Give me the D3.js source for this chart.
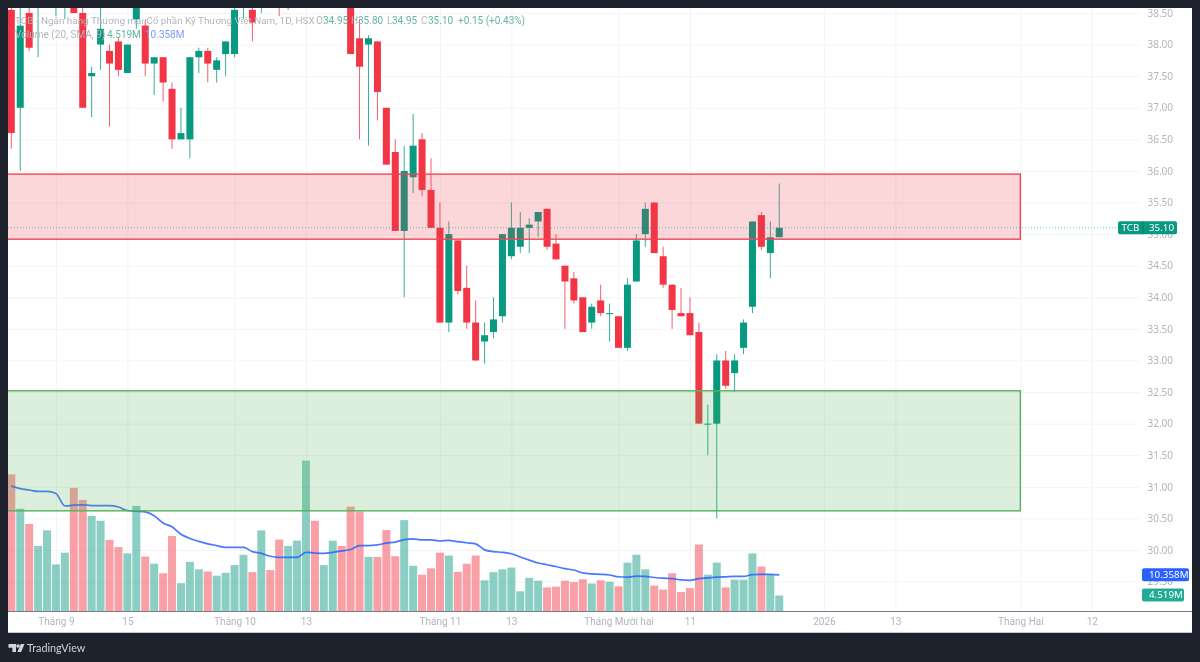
<!DOCTYPE html>
<html><head><meta charset="utf-8">
<style>html,body{margin:0;padding:0;background:#1e222d;overflow:hidden}svg{display:block;filter:blur(.35px)}</style>
<script src="https://cdn.jsdelivr.net/npm/d3@7"></script></head><body>
<svg id="c" width="1200" height="662"></svg>
<script>
// OHLC, one entry per session (values above 38.6 are off the visible pane and estimated)
const opens=[38.55,37.0,38.5,38.65,38.9,38.7,38.8,38.9,38.5,37.5,38.0,37.9,38.05,37.55,38.4,38.3,37.7,37.8,37.3,36.5,36.5,37.8,37.9,37.6,37.85,37.85,38.7,38.55,38.7,39.1,39.0,38.75,38.9,39.0,39.3,39.1,39.2,39.4,39.0,38.1,38.0,38.05,37.0,36.3,35.05,35.9,36.5,35.7,35.1,33.6,34.9,34.15,33.6,33.3,33.45,33.7,34.65,34.8,35.1,35.2,35.4,34.85,34.5,34.3,34.0,33.6,33.95,33.75,33.7,33.2,34.25,35.0,35.5,34.65,34.2,33.75,33.75,33.45,32.0,32.0,33.0,32.8,33.2,33.85,35.3,34.7,34.95];
const highs=[38.8,38.6,38.7,39.0,39.3,39.0,39.1,39.0,38.65,37.65,38.65,38.0,38.1,38.0,38.8,38.4,37.8,37.8,37.4,37.0,37.8,37.95,37.95,37.8,38.05,38.75,39.0,38.7,39.0,39.3,39.1,39.0,39.2,39.3,39.4,39.3,39.4,39.5,39.1,38.4,38.15,38.05,37.0,36.5,36.4,36.9,36.6,36.2,35.5,35.2,34.9,34.5,33.95,33.6,34.0,35.0,35.5,35.35,35.25,35.35,35.4,35.0,34.5,34.4,34.0,33.9,34.2,33.9,33.7,34.3,35.0,35.5,35.5,34.8,34.2,34.15,34.0,33.6,32.3,33.1,33.15,33.1,33.65,35.2,35.35,35.2,35.8];
const lows=[36.35,36.0,37.9,37.8,38.7,38.45,38.4,38.5,37.0,36.85,37.6,36.7,37.5,37.55,38.25,37.5,37.2,37.1,36.35,36.5,36.2,37.55,37.4,37.4,37.5,37.8,38.4,38.05,38.5,38.7,38.45,38.55,38.7,38.8,39.0,38.8,38.9,39.0,37.85,36.5,36.4,36.8,36.1,35.05,34.0,35.65,35.6,35.1,33.6,33.45,34.05,33.5,33.0,32.95,33.35,33.6,34.6,34.7,34.7,34.95,34.75,34.6,33.5,33.9,33.45,33.5,33.7,33.3,33.2,33.15,34.25,34.8,34.7,34.15,33.5,33.7,33.4,32.0,31.5,30.5,32.55,32.5,33.1,33.75,34.75,34.3,34.95];
const closes=[36.6,38.3,37.95,38.9,39.0,38.9,39.0,38.5,37.0,37.55,38.25,37.7,37.6,38.0,38.7,37.7,37.8,37.4,36.5,36.6,37.8,37.9,37.7,37.75,38.05,38.55,38.9,38.35,38.9,38.9,38.8,38.9,39.0,39.2,39.1,39.3,39.4,39.2,37.85,37.65,38.1,37.25,36.1,35.05,36.0,36.4,35.7,35.1,33.6,35.0,34.1,33.6,33.0,33.4,33.65,35.0,35.1,35.1,35.15,35.35,34.8,34.6,34.25,33.95,33.45,33.85,33.75,33.75,33.2,34.2,34.9,35.4,34.7,34.2,33.8,33.7,33.4,32.0,32.0,33.0,32.6,33.0,33.6,35.2,34.8,34.95,35.1];
// Volume in millions and its 20-period SMA
const volumes=[38.7,29.0,24.7,18.5,22.9,13.3,16.6,34.9,31.5,27.0,25.6,20.2,18.2,16.4,29.8,15.5,13.5,10.8,21.3,8.0,14.0,11.9,11.3,10.1,10.9,13.1,16.0,11.1,22.9,11.7,20.3,18.5,20.0,42.6,25.6,13.1,20.0,18.5,29.6,28.2,15.4,15.4,23.0,15.6,25.8,12.9,10.4,12.2,16.6,15.8,11.2,13.5,15.8,8.8,11.1,11.9,12.4,5.7,9.5,8.7,6.8,7.0,8.7,8.3,9.1,7.9,8.8,8.4,7.1,13.8,16.0,11.9,7.3,6.2,10.8,5.5,6.6,18.9,10.4,13.8,6.8,9.0,9.0,16.4,12.7,10.4,4.519];
const smaVolume=[35.4,34.7,34.3,33.9,33.9,33.3,29.8,30.0,30.1,29.9,29.9,29.9,29.5,28.5,28.3,28.1,27.0,25.0,23.9,21.8,20.6,19.8,19.1,18.6,18.1,18.1,18.1,16.9,16.4,15.6,15.3,15.3,15.3,16.7,16.5,16.4,16.7,17.1,17.5,18.6,18.6,18.8,19.3,19.6,20.3,20.5,20.2,20.2,19.9,20.1,19.7,19.4,19.1,17.4,16.9,16.7,16.3,15.4,14.5,13.7,13.2,12.7,12.1,11.7,10.9,10.6,10.5,10.3,9.8,9.7,10.0,9.9,9.6,9.4,9.3,8.9,8.8,9.3,9.5,9.7,9.8,9.9,9.9,10.4,10.5,10.5,10.358];
const isUp=[0,1,0,1,1,1,1,0,0,1,1,0,0,1,1,0,1,0,0,1,1,1,0,1,1,1,1,0,1,0,0,1,1,1,0,1,1,0,0,0,1,0,0,0,1,1,0,0,0,1,0,0,0,1,1,1,1,1,1,1,0,0,0,0,0,1,0,1,0,1,1,1,0,0,0,0,0,0,1,1,0,1,1,1,0,1,1];
// Axis labels
const timeTickIdx=[5,13,25,33,48,56,68,76,91,99,113,121];
const timeTickLabels=["Tháng 9","15","Tháng 10","13","Tháng 11","13","Tháng Mười hai","11","2026","13","Tháng Hai","12"];
const priceTicks=[38.5,38,37.5,37,36.5,36,35.5,35,34.5,34,33.5,33,32.5,32,31.5,31,30.5,30,29.5];
// Zones
const resistanceZone=[34.92,35.95];
const supportZone=[30.62,32.52];
const lastPrice=35.10, lastVol=4.519, lastSma=10.358;
const zoneEndIdx=113;

const UP="#089981",DOWN="#f23645",FONT="'Noto Sans',sans-serif",TFONT="Roboto,sans-serif";
const L=8,T=8,R=1192,B=633,AX=611.5;
const x=d3.scaleLinear().domain([0,121]).range([11.3,1091.8]);
const y=d3.scaleLinear().domain([30,38.5]).range([550,13]);
const v=d3.scaleLinear().domain([0,10.358]).range([AX,574.8]);
const svg=d3.select("#c");
svg.append("defs").append("clipPath").attr("id","pane").append("rect").attr("x",L).attr("y",T).attr("width",R-L).attr("height",AX-T);
svg.append("rect").attr("x",L).attr("y",T).attr("width",R-L).attr("height",B-T).attr("fill","#fff");

// grid + axes
const gy=svg.append("g").attr("transform",`translate(1173,0)`).call(d3.axisLeft(y).tickValues(priceTicks).tickFormat(d3.format(".2f")).tickSize(0).tickPadding(0));
gy.select(".domain").remove();
gy.selectAll("text").attr("fill","#b2b5be").attr("font-family",FONT).attr("font-size",10);
gy.selectAll(".tick").append("line").attr("x1",L-1173).attr("x2",1140-1173).attr("stroke","#f3f4f6");
const gx=svg.append("g").attr("transform",`translate(0,${AX})`).call(d3.axisBottom(x).tickValues(timeTickIdx).tickFormat((d,i)=>timeTickLabels[i]).tickSize(0).tickPadding(6));
gx.select(".domain").remove();
gx.selectAll("text").attr("fill","#b2b5be").attr("font-family",TFONT).attr("font-size",10);
gx.selectAll(".tick").append("line").attr("y1",T-AX).attr("y2",0).attr("stroke","#f3f4f6");

const pane=svg.append("g").attr("clip-path","url(#pane)");
const idx=d3.range(opens.length);
// volume
pane.selectAll("rect.vol").data(idx).join("rect").attr("class","vol")
 .attr("x",i=>x(i)-4).attr("width",8).attr("y",i=>v(volumes[i])).attr("height",i=>AX-v(volumes[i]))
 .attr("fill",i=>isUp[i]?"rgba(8,153,129,.47)":"rgba(242,54,69,.47)");
// wicks
pane.selectAll("line.wick").data(idx).join("line").attr("class","wick")
 .attr("x1",i=>x(i)).attr("x2",i=>x(i)).attr("y1",i=>y(highs[i])).attr("y2",i=>y(lows[i]))
 .attr("stroke",i=>isUp[i]?UP:DOWN).attr("stroke-opacity",.8).attr("stroke-width",1);
// bodies
pane.selectAll("rect.body").data(idx).join("rect").attr("class","body")
 .attr("x",i=>x(i)-3.5).attr("width",7)
 .attr("y",i=>y(Math.max(opens[i],closes[i])))
 .attr("height",i=>Math.max(1,Math.abs(y(opens[i])-y(closes[i]))))
 .attr("fill",i=>isUp[i]?UP:DOWN);
// SMA
pane.append("path").attr("d",d3.line().x((d,i)=>x(i)).y(d=>v(d)).curve(d3.curveMonotoneX)(smaVolume))
 .attr("fill","none").attr("stroke","#2962ff").attr("stroke-opacity",.85).attr("stroke-width",1.7);
// zones
function zone(z,stroke,fill){
 pane.append("rect").attr("x",L-3).attr("width",x(zoneEndIdx)-L+3)
  .attr("y",y(z[1])).attr("height",y(z[0])-y(z[1]))
  .attr("fill",fill).attr("stroke",stroke).attr("stroke-width",1.4);
}
zone(resistanceZone,"#ee4555","rgba(242,54,69,.2)");
zone(supportZone,"#57b05b","rgba(76,175,80,.2)");
// last price line
svg.append("line").attr("x1",L).attr("x2",1118).attr("y1",y(lastPrice)).attr("y2",y(lastPrice))
 .attr("stroke",UP).attr("stroke-opacity",.6).attr("stroke-dasharray","1 2");
// axis line
svg.append("line").attr("x1",L).attr("x2",R).attr("y1",AX).attr("y2",AX).attr("stroke","#787b86").attr("stroke-width",1);
svg.append("line").attr("x1",L).attr("x2",R).attr("y1",B-.5).attr("y2",B-.5).attr("stroke","#c9cbd1");

// labels
function tag(x0,w,cy,fill,txt,tx,h=13){
 svg.append("rect").attr("x",x0).attr("y",cy-h/2).attr("width",w).attr("height",h).attr("rx",2).attr("fill",fill);
 svg.append("text").attr("x",tx).attr("y",cy+3.5).attr("fill","#fff").attr("font-family",FONT).attr("font-size",9.8).text(txt);
}
tag(1118,59,y(lastPrice),UP,"TCB",1121.5);
svg.append("line").attr("x1",1143).attr("x2",1143).attr("y1",y(lastPrice)-6.5).attr("y2",y(lastPrice)+6.5).attr("stroke","#067a67");
svg.append("text").attr("x",1149).attr("y",y(lastPrice)+3.5).attr("fill","#fff").attr("font-family",FONT).attr("font-size",9.8).text(lastPrice.toFixed(2));
tag(1142,47,v(lastSma),"#2962ff",lastSma.toFixed(3)+"M",1149);
tag(1142,42,v(lastVol)-.5,"#22ab94",lastVol.toFixed(3)+"M",1149);

// legend
const lg=svg.append("g").attr("font-family",TFONT);
lg.append("text").attr("x",15).attr("y",24).attr("font-size",9.9).attr("fill","#b2b5be").text("TCB - Ngân hàng Thương mại Cổ phần Kỹ Thương Việt Nam, 1D, HSX");
[["O",316,"#b2b5be"],["34.95",323,"#63b5a5"],["H",351,"#b2b5be"],["35.80",358,"#63b5a5"],["L",387,"#b2b5be"],["34.95",392,"#63b5a5"],["C",421,"#b2b5be"],["35.10",428,"#63b5a5"],["+0.15 (+0.43%)",458,"#63b5a5"]]
 .forEach(a=>lg.append("text").attr("x",a[1]).attr("y",24).attr("font-size",10).attr("fill",a[2]).text(a[0]));
lg.append("text").attr("x",15).attr("y",38).attr("font-size",10).attr("fill","#b2b5be").text("Volume (20, SMA, 9)");
lg.append("text").attr("x",107).attr("y",38).attr("font-size",10).attr("fill","#63b5a5").text("4.519M");
lg.append("text").attr("x",145).attr("y",38).attr("font-size",10).attr("fill","#7f9cf5").text("10.358M");

// TradingView mark
const m=svg.append("g").attr("fill","#d1d4dc");
m.append("path").attr("d","M8.5 644h7.5v8h-3.6v-4.2h-3.9z");
m.append("circle").attr("cx",18).attr("cy",646).attr("r",1.8);
m.append("path").attr("d","M20.8 644h3.7l-3.4 8h-3.7z");
svg.append("text").attr("x",27).attr("y",652).attr("fill","#d1d4dc").attr("font-family","Lato,sans-serif").attr("font-size",10.8).text("TradingView");
</script></body></html>
